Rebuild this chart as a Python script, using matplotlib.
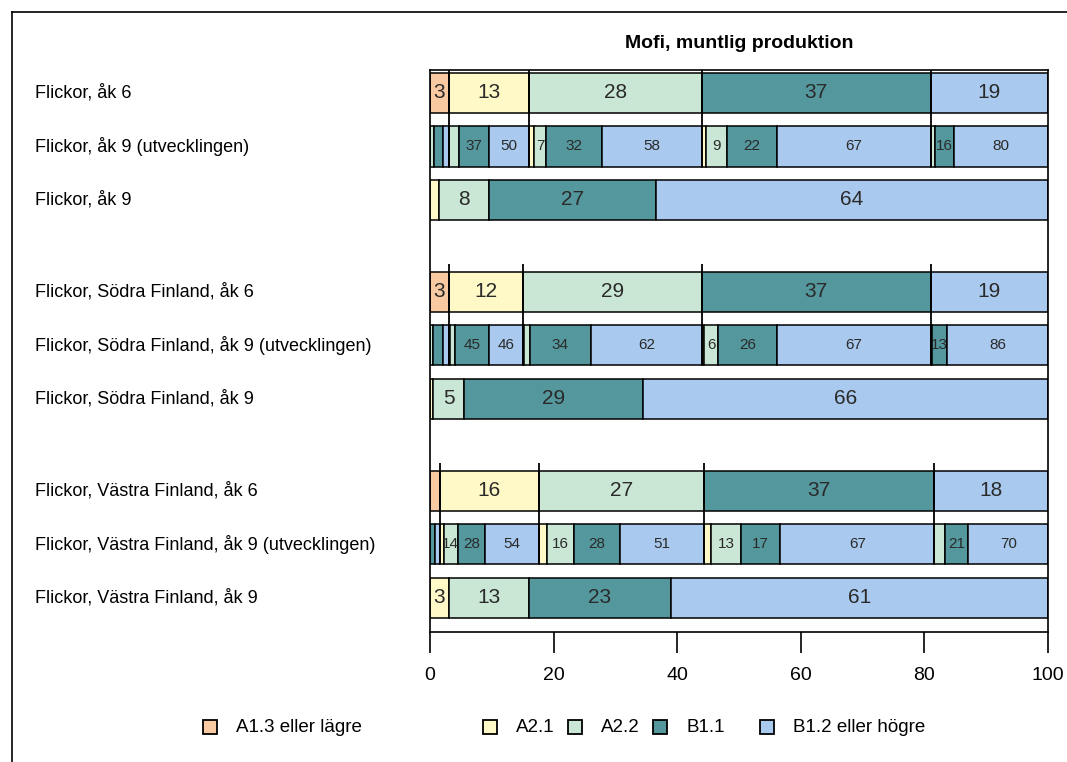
import matplotlib
matplotlib.use("Agg")
import matplotlib.pyplot as plt
from matplotlib import font_manager
from matplotlib.patches import Rectangle
from matplotlib.lines import Line2D
import matplotlib.transforms as mtransforms

# ── Data ─────────────────────────────────────────────────────────
levels = ["A1.3 eller lägre", "A2.1", "A2.2", "B1.1", "B1.2 eller högre"]
colors = ["#F9C9A1", "#FFF9C8", "#CAE7D5", "#54979D", "#A9C9EE"]

row_labels = [
    "Flickor, åk 6",
    "Flickor, åk 9 (utvecklingen)",
    "Flickor, åk 9",
    "Flickor, Södra Finland, åk 6",
    "Flickor, Södra Finland, åk 9 (utvecklingen)",
    "Flickor, Södra Finland, åk 9",
    "Flickor, Västra Finland, åk 6",
    "Flickor, Västra Finland, åk 9 (utvecklingen)",
    "Flickor, Västra Finland, åk 9",
]

# grade 6 distributions (%)
flickor_ak6 = [3, 13, 28, 37, 19]
sodra_ak6 = [3, 12, 29, 37, 19]
vastra_ak6 = [1.6, 16, 26.8, 37.2, 18.4]

# grade 9 distributions (%)
flickor_ak9 = [0, 1.5, 8.1, 26.9, 63.5]
sodra_ak9 = [0, 0.5, 5, 29, 65.5]
vastra_ak9 = [0, 3, 13, 23, 61]

# development: grade 9 distribution within each grade 6 level (%)
flickor_dev = [
    [0, 0, 20, 50, 30],
    [0, 1, 12, 37, 50],
    [0, 3, 7, 32, 58],
    [0, 2, 9, 22, 67],
    [0, 0, 4, 16, 80],
]
sodra_dev = [
    [0, 0, 15, 55, 30],
    [0, 2, 7, 45, 46],
    [0, 1, 3, 34, 62],
    [0, 1, 6, 26, 67],
    [0, 0, 1, 13, 86],
]
vastra_dev = [
    [0, 0, 0, 50, 50],
    [0, 4, 14, 28, 54],
    [0, 5, 16, 28, 51],
    [0, 3, 13, 17, 67],
    [0, 0, 9, 21, 70],
]

groups = [
    (flickor_ak6, flickor_dev, flickor_ak9),
    (sodra_ak6, sodra_dev, sodra_ak9),
    (vastra_ak6, vastra_dev, vastra_ak9),
]

# ── Style ────────────────────────────────────────────────────────
names = {f.name for f in font_manager.fontManager.ttflist}
font = "Liberation Sans Narrow" if "Liberation Sans Narrow" in names else "Liberation Sans"
plt.rcParams["font.family"] = [font, "DejaVu Sans"]

BAR_H = 0.75
GROUP_STEP = 3.72
LW = 1.1
MIN_W = 1.9

fig = plt.figure(figsize=(10.67, 7.62), dpi=100)
ax = fig.add_axes([430 / 1067, 1 - 632 / 762, 618 / 1067, 562 / 762])


def draw_stack(y, left0, vals, scale, fs):
    left = left0
    for i, v in enumerate(vals):
        w = v * scale / 100
        if w <= 0:
            continue
        ax.barh(y, w, left=left, height=BAR_H, color=colors[i],
                edgecolor="black", linewidth=LW)
        if w >= MIN_W:
            ax.text(left + w / 2, y, f"{round(v)}", ha="center", va="center",
                    fontsize=fs, color="#2a2a2a")
        left += w


ypos = []
for g, (ak6, dev, ak9) in enumerate(groups):
    y0 = g * GROUP_STEP
    ypos += [y0, y0 + 1, y0 + 2]
    draw_stack(y0, 0, ak6, 100, 15)
    left = 0
    for j, sub in enumerate(dev):
        draw_stack(y0 + 1, left, sub, ak6[j], 11)
        left += ak6[j]
    draw_stack(y0 + 2, 0, ak9, 100, 15)
    # grade 6 boundaries carried down into the development row
    cum = 0
    for v in ak6[:-1]:
        cum += v
        ax.vlines(cum, y0 - BAR_H / 2 - 0.15, y0 + 1 + BAR_H / 2,
                  color="black", linewidth=1.3, zorder=5)

ax.set_xlim(0, 100)
ax.set_ylim(ypos[-1] + 0.64, -0.43)
ax.set_yticks([])
ax.set_xticks([0, 20, 40, 60, 80, 100])
ax.tick_params(axis="x", length=15, width=1.2, pad=10, labelsize=14)
for s in ax.spines.values():
    s.set_linewidth(1.2)

trans = mtransforms.blended_transform_factory(fig.transFigure, ax.transData)
for y, lab in zip(ypos, row_labels):
    ax.text(35 / 1067, y, lab, transform=trans, ha="left", va="center",
            fontsize=13, color="black")

ax.set_title("Mofi, muntlig produktion", fontsize=14, fontweight="bold", pad=16)

# legend
leg_sq = [210, 490, 575, 660, 767]
for x, c, lab in zip(leg_sq, colors, levels):
    fig.add_artist(Rectangle(((x - 7) / 1067, 1 - 734 / 762), 14 / 1067, 14 / 762,
                             transform=fig.transFigure, facecolor=c,
                             edgecolor="black", linewidth=1.3))
    fig.text((x + 26) / 1067, 1 - 727 / 762, lab, ha="left", va="center", fontsize=13.5)

# outer frame (left and top)
fig.add_artist(Line2D([12 / 1067, 12 / 1067], [0, 1 - 12 / 762],
                      transform=fig.transFigure, color="black", linewidth=1.2))
fig.add_artist(Line2D([12 / 1067, 1], [1 - 12 / 762, 1 - 12 / 762],
                      transform=fig.transFigure, color="black", linewidth=1.2))

fig.savefig("out.png", dpi=100)
